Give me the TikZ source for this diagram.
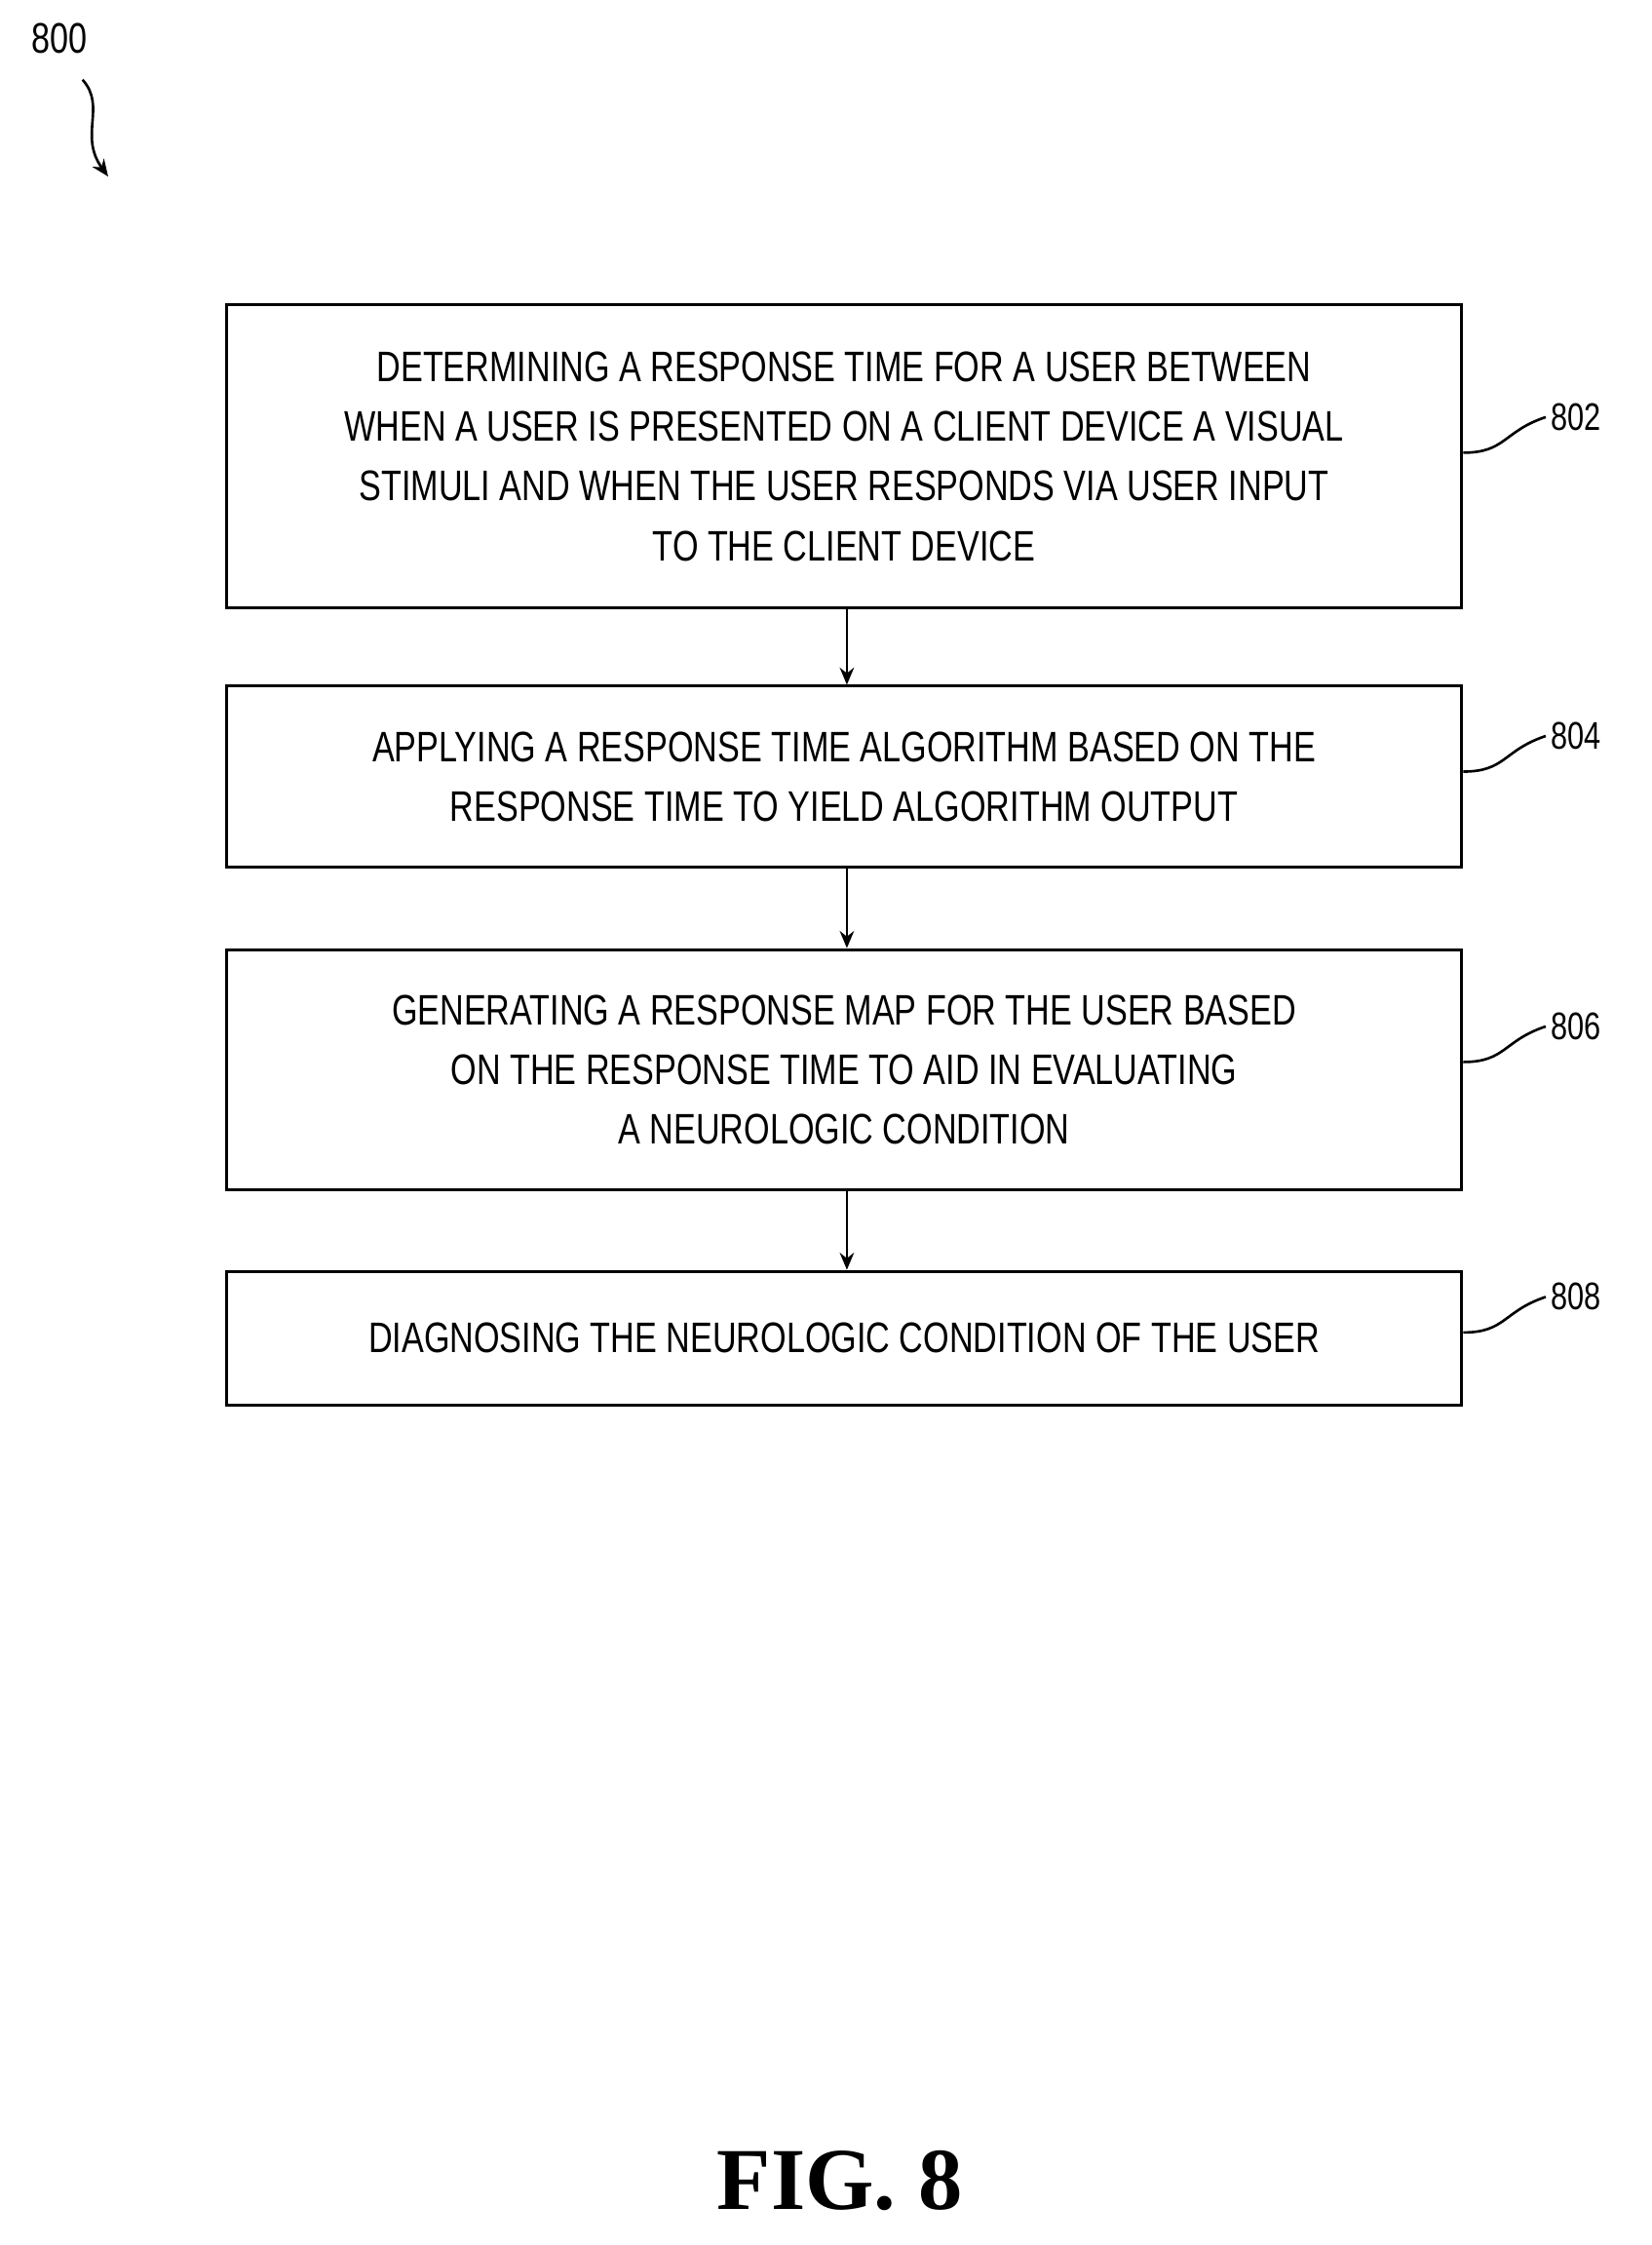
\documentclass[tikz,border=0pt]{standalone}
\usepackage{fontspec}
\setmainfont{Liberation Sans}[FakeStretch=0.78]
\newfontfamily\figfont{Liberation Serif}
\usetikzlibrary{arrows.meta}
\begin{document}
\begin{tikzpicture}[x=1pt,y=-1pt,
  box/.style={draw,line width=2pt,minimum width=868pt,align=center,inner sep=0pt,font=\fontsize{30}{42}\selectfont},
  lbl/.style={font=\fontsize{27}{30}\selectfont,anchor=west},
  arr/.style={line width=1.8pt,-{Stealth[length=12pt,width=10pt]}},
  lead/.style={line width=1.8pt}]
\useasboundingbox (0,0) rectangle (1160,1577);
\node[box,minimum height=213pt] (b1) at (593,320.5) {DETERMINING A RESPONSE TIME FOR A USER BETWEEN\\WHEN A USER IS PRESENTED ON A CLIENT DEVICE A VISUAL\\STIMULI AND WHEN THE USER RESPONDS VIA USER INPUT\\TO THE CLIENT DEVICE};
\node[box,minimum height=127pt] (b2) at (593,545.5) {APPLYING A RESPONSE TIME ALGORITHM BASED ON THE\\RESPONSE TIME TO YIELD ALGORITHM OUTPUT};
\node[box,minimum height=169pt] (b3) at (593,751.5) {GENERATING A RESPONSE MAP FOR THE USER BASED\\ON THE RESPONSE TIME TO AID IN EVALUATING\\A NEUROLOGIC CONDITION};
\node[box,minimum height=94pt] (b4) at (593,940) {DIAGNOSING THE NEUROLOGIC CONDITION OF THE USER};
\draw[arr] (b1.south-|595,0) -- (b2.north-|595,0);
\draw[arr] (b2.south-|595,0) -- (b3.north-|595,0);
\draw[arr] (b3.south-|595,0) -- (b4.north-|595,0);
\node[lbl] (l1) at (1086,293) {802};
\node[lbl] (l2) at (1086,517) {804};
\node[lbl] (l3) at (1086,721) {806};
\node[lbl] (l4) at (1086,911) {808};
\foreach \b/\l in {b1/l1,b2/l2,b3/l3,b4/l4}{
  \draw[lead] (\b.east|-\l.west) ++(0,25) coordinate (s) .. controls +(30,0) and +(-30,10) .. (\l.west);
}
\node[font=\fontsize{30}{32}\selectfont] (n800) at (42,27) {800};
\coordinate (e800) at (76,124);
\draw[arr] (58,56) .. controls (75,75) and (55,95) .. (e800);
\node[font=\figfont\bfseries\fontsize{62}{64}\selectfont] (fig) at (590,1532) {FIG. 8};
\end{tikzpicture}
\end{document}
